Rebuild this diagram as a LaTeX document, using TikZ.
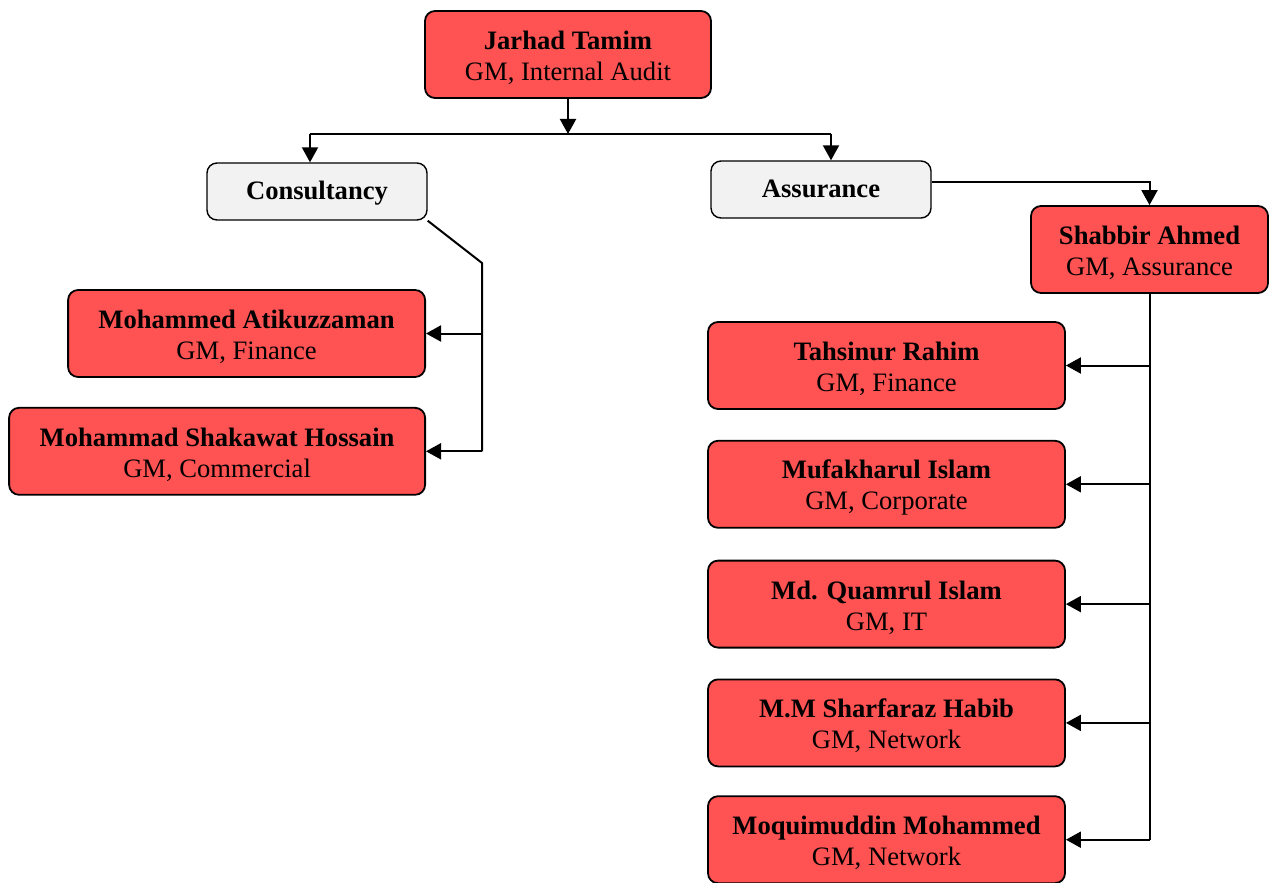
\documentclass[tikz,border=0pt]{standalone}
\usepackage{fontspec}
\setmainfont{Liberation Serif}
\usetikzlibrary{arrows.meta, positioning, calc}
\definecolor{boxred}{RGB}{255,82,82}
\definecolor{boxgray}{RGB}{242,242,242}
\newcommand{\who}[1]{\rule{0pt}{12.5pt}\textbf{#1}}
\tikzstyle{person} = [
    rectangle,
    rounded corners=5pt,
    minimum height=43.5pt,
    text centered,
    align=center,
    draw=black,
    line width=0.9pt,
    fill=boxred,
    inner sep=2pt,
    font=\fontsize{13.3}{15.5}\selectfont
]
\tikzstyle{unit} = [
    rectangle,
    rounded corners=5pt,
    minimum width=110pt,
    minimum height=28.5pt,
    text centered,
    text height=11pt,
    text depth=3pt,
    draw=black,
    line width=0.7pt,
    fill=boxgray,
    font=\fontsize{13.3}{15.5}\selectfont\bfseries
]
\tikzstyle{arrow} = [-{Triangle[length=7.5pt,width=8pt]}, line width=1pt]
\tikzstyle{link} = [line width=1pt]

\begin{document}
\begin{tikzpicture}[x=0.5pt, y=-0.5pt]
    \useasboundingbox (0,0) rectangle (1277,882);

    % Head
    \node (jarhad) [person, minimum width=143pt] at (568,54.5) {\who{Jarhad Tamim}\\GM, Internal Audit};

    % Units
    \node (consult) [unit] at (317,191.5) {Consultancy};
    \node (assure) [unit] at (821,189.5) {Assurance};

    % Consultancy side
    \node (atik) [person, minimum width=178.5pt, anchor=east] at (426,333.5) {\who{Mohammed Atikuzzaman}\\GM, Finance};
    \node (shakawat) [person, minimum width=208pt, below left=14.5pt and 0pt of atik.south east] {\who{Mohammad Shakawat Hossain}\\GM, Commercial};

    % Assurance side
    \node (shabbir) [person, minimum width=118.5pt] at (1149.5,249.5) {\who{Shabbir Ahmed}\\GM, Assurance};
    \node (tahsinur) [person, minimum width=178.5pt] at (886.5,365.5) {\who{Tahsinur Rahim}\\GM, Finance};
    \node (mufakharul) [person, minimum width=178.5pt, below=15pt of tahsinur] {\who{Mufakharul Islam}\\GM, Corporate};
    \node (quamrul) [person, minimum width=178.5pt, below=15.5pt of mufakharul] {\who{Md. Quamrul Islam}\\GM, IT};
    \node (sharfaraz) [person, minimum width=178.5pt, below=15pt of quamrul] {\who{M.M Sharfaraz Habib}\\GM, Network};
    \node (moquim) [person, minimum width=178.5pt, below=14pt of sharfaraz] {\who{Moquimuddin Mohammed}\\GM, Network};

    % Head to units
    \coordinate (bar) at (568,134);
    \coordinate (barL) at (310,134);
    \coordinate (barR) at (831,134);
    \draw [arrow] (jarhad.south) -- (bar);
    \draw [link] (barL) -- (barR);
    \draw [arrow] (barL) -- (barL |- consult.north);
    \draw [arrow] (barR) -- (barR |- assure.north);

    % Consultancy branch
    \coordinate (cbend) at (482,263);
    \draw [link] (consult.south east) -- (cbend) -- (cbend |- shakawat.east);
    \draw [arrow] (cbend |- atik.east) -- (atik.east);
    \draw [arrow] (cbend |- shakawat.east) -- (shakawat.east);

    % Assurance branch
    \draw [arrow] ($(assure.east)+(0,-7)$) -| (shabbir.north);
    \draw [link] (shabbir.south) -- (shabbir.south |- moquim.east);
    \foreach \n in {tahsinur, mufakharul, quamrul, sharfaraz, moquim}
        \draw [arrow] (shabbir.south |- \n.east) -- (\n.east);
\end{tikzpicture}
\end{document}
